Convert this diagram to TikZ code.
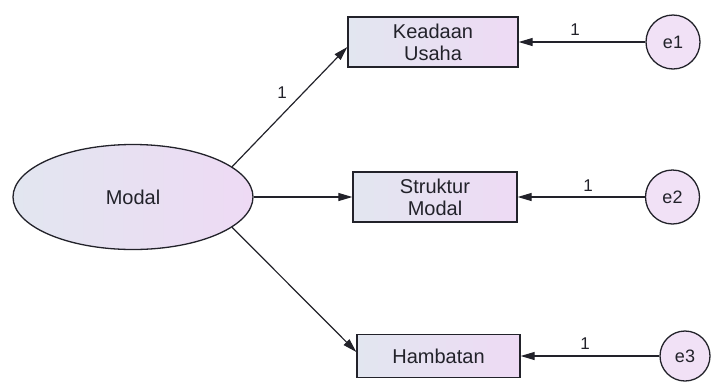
\documentclass[tikz,border=0pt]{standalone}
\usepackage{fontspec}
\setmainfont{Liberation Sans}
\usetikzlibrary{shapes.geometric,arrows.meta}

\definecolor{fillL}{RGB}{226,230,240}
\definecolor{fillR}{RGB}{238,218,244}
\definecolor{ink}{RGB}{34,34,42}

\tikzset{
  obs/.style={draw=ink, line width=1.3pt, left color=fillL, right color=fillR,
    minimum width=166pt, minimum height=50pt, inner sep=0pt, align=center,
    text=ink, font=\fontsize{20}{22}\selectfont},
  latent/.style={ellipse, draw=ink, line width=1.3pt, left color=fillL, right color=fillR,
    minimum width=240pt, minimum height=105pt, inner sep=0pt, text=ink,
    font=\fontsize{20}{22}\selectfont},
  err/.style={circle, draw=ink, line width=1.3pt, fill=fillR!80!white,
    minimum size=54pt, inner sep=0pt, text=ink, font=\fontsize{18}{20}\selectfont},
  path1/.style={draw=ink, line width=1.2pt, -{Triangle[length=14pt,width=8pt]}},
  wt/.style={text=ink, font=\fontsize{17}{18}\selectfont, inner sep=0pt}
}

\begin{document}
\begin{tikzpicture}[x=1pt,y=-1pt]
  \useasboundingbox (0,0) rectangle (712,381);

  % latent factor
  \node[latent] (modal) at (133,197) {Modal};

  % indicators
  \node[obs, minimum width=170pt] (k) at (433,42) {Keadaan\\Usaha};
  \node[obs, minimum width=164pt] (s) at (435,197) {Struktur\\Modal};
  \node[obs, minimum width=163pt, minimum height=43pt] (h) at (438.5,356) {Hambatan};

  % error terms
  \node[err] (e1) at (673,42) {e1};
  \node[err] (e2) at (672.5,197) {e2};
  \node[err, minimum size=50pt] (e3) at (685,356) {e3};

  % loadings
  \draw[path1] (modal.17) -- ([yshift=-5pt]k.west);
  \draw[path1] (modal.east) -- (s.west);
  \draw[path1] (modal.-17) -- ([yshift=4pt]h.west);

  % error paths
  \draw[path1] (e1.west) -- (k.east);
  \draw[path1] (e2.west) -- (s.east);
  \draw[path1] (e3.west) -- (h.east);

  % fixed weights
  \node[wt] (w0) at (282,93) {1};
  \node[wt] (w1) at (575,30) {1};
  \node[wt] (w2) at (588,186) {1};
  \node[wt] (w3) at (585,344) {1};
\end{tikzpicture}
\end{document}
